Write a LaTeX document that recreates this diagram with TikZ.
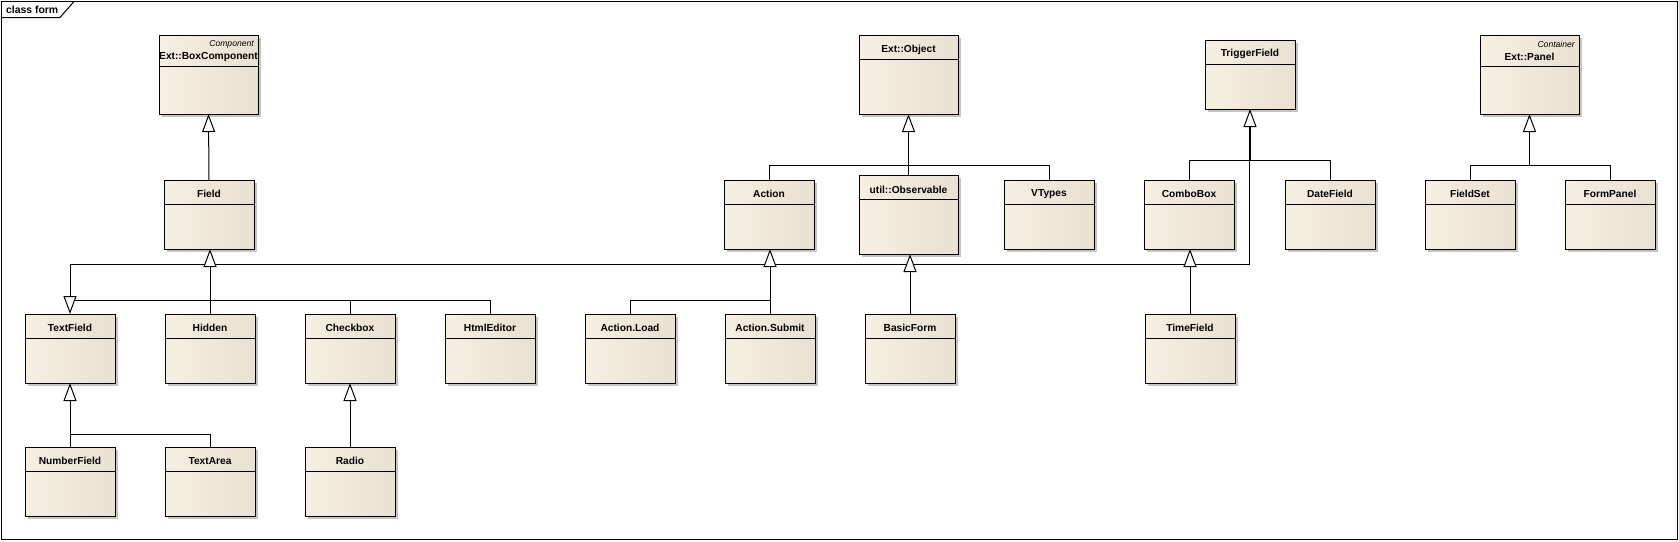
\documentclass[tikz,border=0pt]{standalone}
\usepackage{fontspec}
\setmainfont{Liberation Sans}
\usetikzlibrary{arrows.meta}
\definecolor{creamL}{RGB}{246,240,226}
\definecolor{creamM}{RGB}{250,246,237}
\definecolor{creamR}{RGB}{232,224,208}
\definecolor{shadowc}{RGB}{196,196,196}
\tikzset{
  clsbox/.style={rectangle, draw=black, line width=1pt, left color=creamL, middle color=creamM, right color=creamR, inner sep=0pt, outer sep=0pt},
  clstitle/.style={font=\fontsize{10.2}{12}\selectfont\bfseries, inner sep=0pt},
  stereo/.style={font=\fontsize{8.6}{10}\selectfont\itshape, inner sep=0pt},
  conn/.style={draw=black, line width=1pt},
  gen/.style={conn, -{Triangle[length=18pt, width=13pt, fill=white]}},
  boxshadow/.style={fill=shadowc},
}
\newcommand\umlcls[6]{% name, x, y, w, h, title dy
  \fill[boxshadow] (#2+3,#3+3) rectangle ++(#4,#5);
  \node[clsbox, minimum width=#4pt, minimum height=#5pt, anchor=north west] (#1) at (#2,#3) {};
}
\newcommand\umltitle[3]{\node[clstitle] (#1-t) at ([yshift=-#2pt]#1.north) {#3};}
\newcommand\umlsep[2]{\draw[line width=1pt] ([yshift=-#2pt]#1.north west) -- ([yshift=-#2pt]#1.north east);}
\newcommand\stdcls[4]{% name x y title
  \umlcls{#1}{#2}{#3}{90}{69}{}
  \umltitle{#1}{14}{#4}
  \umlsep{#1}{24}
}
\begin{document}
\begin{tikzpicture}[x=1pt,y=-1pt]
\useasboundingbox (0,0) rectangle (1679,541);
\fill[white] (0,0) rectangle (1679,541);
% frame
\draw[line width=1pt] (1.5,1.5) rectangle (1677.5,539.5);
\draw[line width=1pt] (1.5,17.5) -- (60,17.5) -- (74,1.5);
\node[font=\fontsize{10.4}{12}\selectfont\bfseries, anchor=west, inner sep=0pt] (frametitle) at (6,9.5) {class form};

% big classes
\umlcls{BoxComp}{159}{35}{99}{79}{}
\node[stereo, anchor=east] (BoxComp-s) at ([xshift=-4pt,yshift=-9pt]BoxComp.north east) {Component};
\umltitle{BoxComp}{22}{Ext::BoxComponent}
\umlsep{BoxComp}{31}

\umlcls{ExtObject}{859}{35}{99}{79}{}
\umltitle{ExtObject}{15}{Ext::Object}
\umlsep{ExtObject}{24}

\umlcls{Observable}{859}{175}{99}{79}{}
\umltitle{Observable}{15}{util::Observable}
\umlsep{Observable}{24}

\umlcls{Panel}{1480}{35}{99}{79}{}
\node[stereo, anchor=east] (Panel-s) at ([xshift=-4pt,yshift=-9pt]Panel.north east) {Container};
\umltitle{Panel}{22}{Ext::Panel}
\umlsep{Panel}{31}

% standard classes
\stdcls{Field}{164}{180}{Field}
\stdcls{TextField}{25}{314}{TextField}
\stdcls{Hidden}{165}{314}{Hidden}
\stdcls{Checkbox}{305}{314}{Checkbox}
\stdcls{HtmlEditor}{445}{314}{HtmlEditor}
\stdcls{NumberField}{25}{447}{NumberField}
\stdcls{TextArea}{165}{447}{TextArea}
\stdcls{Radio}{305}{447}{Radio}
\stdcls{Action}{724}{180}{Action}
\stdcls{VTypes}{1004}{180}{VTypes}
\stdcls{ActionLoad}{585}{314}{Action.Load}
\stdcls{ActionSubmit}{725}{314}{Action.Submit}
\stdcls{BasicForm}{865}{314}{BasicForm}
\stdcls{TriggerField}{1205}{40}{TriggerField}
\stdcls{ComboBox}{1144}{180}{ComboBox}
\stdcls{DateField}{1285}{180}{DateField}
\stdcls{TimeField}{1145}{314}{TimeField}
\stdcls{FieldSet}{1425}{180}{FieldSet}
\stdcls{FormPanel}{1565}{180}{FormPanel}

% bus coordinates
\coordinate (busMain) at (0,264);
\coordinate (busTF) at (0,300);
\coordinate (busNF) at (0,434);
\coordinate (busObj) at (0,165);
\coordinate (busTrg) at (0,160);

% Checkbox, HtmlEditor lines to TextField
\draw[conn] (Checkbox.north) |- (TextField.north |- busTF);
\draw[conn] (HtmlEditor.north) |- (Checkbox.north |- busTF);
% TriggerField -> TextField
\draw[gen] ([xshift=-1pt]TriggerField.south) |- (TextField.north |- busMain) -- (TextField.north);

% Field <- Hidden
\draw[gen] (Hidden.north) -- (Hidden.north |- Field.south);
% BoxComponent <- Field
\draw[gen] (Field.north) -- (BoxComp.south);
% TextField <- NumberField, TextArea
\draw[conn] (TextArea.north) |- (NumberField.north |- busNF);
\draw[gen] (NumberField.north) -- (TextField.south);
% Checkbox <- Radio
\draw[gen] (Radio.north) -- (Checkbox.south);
% Ext::Object <- Action, Observable, VTypes
\draw[conn] (Action.north) |- (VTypes.north |- busObj) -- (VTypes.north);
\draw[gen] (Observable.north) -- (ExtObject.south);
% Action <- Action.Load, Action.Submit
\draw[conn] (ActionLoad.north) |- (ActionSubmit.north |- busTF);
\draw[gen] (ActionSubmit.north) -- (ActionSubmit.north |- Action.south);
% Observable <- BasicForm
\draw[gen] (BasicForm.north) -- (BasicForm.north |- Observable.south);
% TriggerField <- ComboBox, DateField
\draw[conn] (ComboBox.north) |- (DateField.north |- busTrg) -- (DateField.north);
\draw[gen] (TriggerField.south |- busTrg) -- (TriggerField.south);
% ComboBox <- TimeField
\draw[gen] (TimeField.north) -- (TimeField.north |- ComboBox.south);
% Panel <- FieldSet, FormPanel
\draw[conn] (FieldSet.north) |- (FormPanel.north |- busObj) -- (FormPanel.north);
\draw[gen] (Panel.south |- busObj) -- (Panel.south);
\end{tikzpicture}
\end{document}
